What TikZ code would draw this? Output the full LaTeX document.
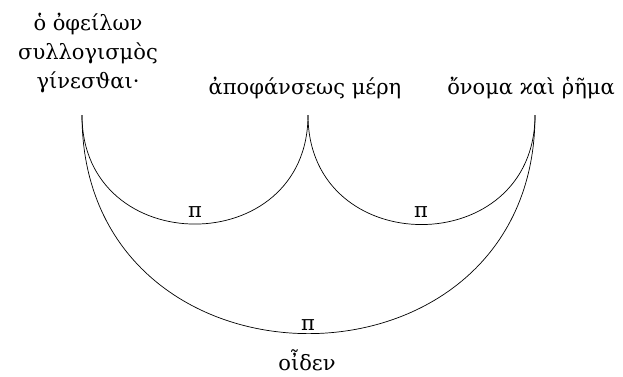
\documentclass[tikz,border=0pt]{standalone}
\usepackage{fontspec}
\setmainfont{DejaVu Serif}
\begin{document}
\begin{tikzpicture}[x=1pt,y=-1pt,
  lbl/.style={inner sep=0pt,font=\fontsize{21}{29}\selectfont},
  arcline/.style={draw=black,line width=0.7pt,out=-90,in=-90,looseness=1.65}]
\useasboundingbox (0,0) rectangle (623,376);
\node[lbl,align=center,anchor=base] (t1) at (88,88) {ὁ ὀφείλων\\συλλογισμὸς\\γίνεσϑαι·};
\node[lbl,anchor=base] (t2) at (305,94) {ἀποφάνσεως μέρη};
\node[lbl,anchor=base] (t3) at (531,94) {ὄνομα ϰαὶ ῥῆμα};
\node[lbl,anchor=base] (t4) at (307,370) {οἶδεν};
\coordinate (e1) at (82,115);
\coordinate (e2) at (308,115);
\coordinate (e3) at (535,115);
\draw[arcline] (e1) to (e2);
\draw[arcline] (e2) to (e3);
\draw[arcline] (e1) to (e3);
\node[lbl,anchor=base] (p1) at (195,217) {π};
\node[lbl,anchor=base] (p2) at (421,217) {π};
\node[lbl,anchor=base] (p3) at (308,330) {π};
\end{tikzpicture}
\end{document}
